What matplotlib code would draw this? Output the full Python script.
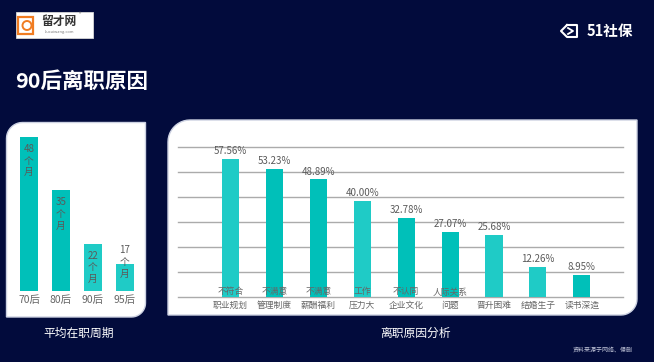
import numpy as np
import matplotlib
matplotlib.use("Agg")
import matplotlib.pyplot as plt
import matplotlib.patches as mpatches

plt.rcParams['font.family'] = ['Noto Sans CJK SC', 'DejaVu Sans']

# data
gen_labels = ["70后", "80后", "90后", "95后"]
tenure_months = [48, 35, 22, 17]

reasons = ["不符合\n职业规划", "不满意\n管理制度", "不满意\n薪酬福利", "工作\n压力大",
           "不认同\n企业文化", "人际关系\n问题", "晋升困难", "结婚生子", "读书深造"]
reason_pct = [57.56, 53.23, 48.89, 40.00, 32.78, 27.07, 25.68, 12.26, 8.95]

W, H = 654, 362
BG = "#020b3c"
TEAL_A = "#1fcbc6"
TEAL_B = "#00c0b9"
GRAY = "#5a5a5a"

fig = plt.figure(figsize=(W / 100, H / 100), dpi=100)
fig.patch.set_facecolor(BG)


def px(x0, y0, x1, y1):
    # pixel box (top-left origin) -> figure fraction rect
    return [x0 / W, 1 - y1 / H, (x1 - x0) / W, (y1 - y0) / H]


def panel(x0, y0, x1, y1, r1, r2):
    # white card, rounded top-left and bottom-right only
    pts = []
    t = np.linspace(np.pi, np.pi / 2, 12)
    pts += [(x0 + r1 + r1 * np.cos(a), y0 + r1 - r1 * np.sin(a)) for a in t]
    pts += [(x1, y0)]
    t = np.linspace(0, -np.pi / 2, 12)
    pts += [(x1 - r2 + r2 * np.cos(a), y1 - r2 - r2 * np.sin(a)) for a in t]
    pts += [(x0, y1)]
    pts = [(x / W, 1 - y / H) for x, y in pts]
    p = mpatches.Polygon(pts, closed=True, transform=fig.transFigure,
                         facecolor="white", edgecolor="#cdd2e2", lw=1.0, zorder=-5)
    fig.add_artist(p)


panel(6.5, 122.5, 145.5, 317, 16, 14)
panel(168, 120, 637, 315, 22, 16)

# logo top-left
fig.add_artist(mpatches.Rectangle((15.5 / W, 1 - 38 / H), 77 / W, 26 / H,
                                  transform=fig.transFigure, facecolor="white",
                                  edgecolor="#d8d8d8", lw=0.6))
fig.add_artist(mpatches.Rectangle((18 / W, 1 - 34 / H), 15 / W, 17 / H,
                                  transform=fig.transFigure, facecolor="none",
                                  edgecolor="#f07c22", lw=1.6))
fig.add_artist(mpatches.Ellipse((27 / W, 1 - 25.5 / H), 9 / W, 9 / H,
                                transform=fig.transFigure, facecolor="none",
                                edgecolor="#f07c22", lw=1.4))
fig.text(59 / W, 1 - 21 / H, "留才网", color="#333333", fontsize=8.5,
         fontweight="bold", ha="center", va="center")
fig.text(59 / W, 1 - 31.5 / H, "liucaiwang.com", color="#777777", fontsize=2.8,
         ha="center", va="center")
fig.text(80 / W, 1 - 15 / H, "®", color="#555555", fontsize=3.5, ha="center", va="center")

# logo top-right
icon = [(567, 25), (561, 31), (567, 37), (577, 37), (577, 25), (567, 25)]
fig.add_artist(plt.Line2D([p[0] / W for p in icon], [1 - p[1] / H for p in icon],
                          transform=fig.transFigure, color="white", lw=1.5))
fig.add_artist(plt.Line2D([568 / W, 573 / W, 568 / W], [1 - 28 / H, 1 - 31 / H, 1 - 34 / H],
                          transform=fig.transFigure, color="white", lw=1.3))
fig.text(610 / W, 1 - 31 / H, "51社保", color="white", fontsize=10.5,
         fontweight="bold", ha="center", va="center")

# title
fig.text(15 / W, 1 - 81 / H, "90后离职原因", color="white", fontsize=15.5,
         fontweight="bold", ha="left", va="center")

# left chart
ax1 = fig.add_axes(px(13, 129, 141, 290.7))
ax1.set_facecolor("none")
x1 = np.arange(len(gen_labels))
ax1.bar(x1, tenure_months, width=0.57, color=[TEAL_B, TEAL_B, TEAL_A, TEAL_A], zorder=2)
ax1.set_xlim(-0.5, 3.5)
ax1.set_ylim(10.5, 50)
for i, v in enumerate(tenure_months):
    txt = "%d\n个\n月" % v
    if v - 10.5 < 10:
        ax1.text(i, v + 0.5, txt, ha="center", va="center", fontsize=7,
                 color=GRAY, linespacing=1.2)
    else:
        ax1.annotate(txt, (i, v), xytext=(0, -5), textcoords="offset points",
                     ha="center", va="top", fontsize=7, color=GRAY, linespacing=1.2)
ax1.set_xticks(x1)
ax1.set_xticklabels(gen_labels, fontsize=7.5, color="#666666")
ax1.tick_params(axis="x", length=0, pad=3)
ax1.set_yticks([])
for s in ax1.spines.values():
    s.set_visible(False)

# right chart
ax2 = fig.add_axes(px(178, 146.7, 623, 296.7))
ax2.set_facecolor("none")
x2 = np.arange(len(reasons))
cols = [TEAL_A, TEAL_B, TEAL_B, TEAL_A, TEAL_B, TEAL_B, TEAL_A, TEAL_A, TEAL_B]
ax2.bar(x2, reason_pct, width=0.39, color=cols, zorder=2)
ax2.set_xlim(-1.2, 8.94)
ax2.set_ylim(0, 62.5)
ax2.set_yticks(np.linspace(0, 62.5, 7))
ax2.yaxis.grid(True, color="#ababab", lw=1.0)
for gl in ax2.get_ygridlines():
    gl.set_clip_on(False)
ax2.set_axisbelow(True)
ax2.tick_params(axis="y", length=0, labelleft=False)
ax2.set_xticks([])
for s in ax2.spines.values():
    s.set_visible(False)
for i, v in enumerate(reason_pct):
    ax2.annotate("%.2f%%" % v, (i, v), xytext=(0, 2), textcoords="offset points",
                 ha="center", va="bottom", fontsize=7, color=GRAY)
    lines = reasons[i].split("\n")
    if len(lines) == 2:
        ax2.annotate(lines[0], (i, 0), xytext=(0, 3.4), textcoords="offset points",
                     ha="center", va="center", fontsize=6.3, color="#666666", zorder=3)
    ax2.annotate(lines[-1], (i, 0), xytext=(0, -6), textcoords="offset points",
                 ha="center", va="center", fontsize=6.3, color="#666666",
                 annotation_clip=False)

# panel captions
fig.text(79 / W, 1 - 333 / H, "平均在职周期", color="white", fontsize=8.5,
         ha="center", va="center")
fig.text(415 / W, 1 - 333 / H, "离职原因分析", color="white", fontsize=8.5,
         ha="center", va="center")
fig.text(603 / W, 1 - 350 / H, "资料来源于网络、侵删", color="#c5c9dc", fontsize=4.3,
         ha="center", va="center")

fig.savefig("out.png", dpi=100, facecolor=BG)
